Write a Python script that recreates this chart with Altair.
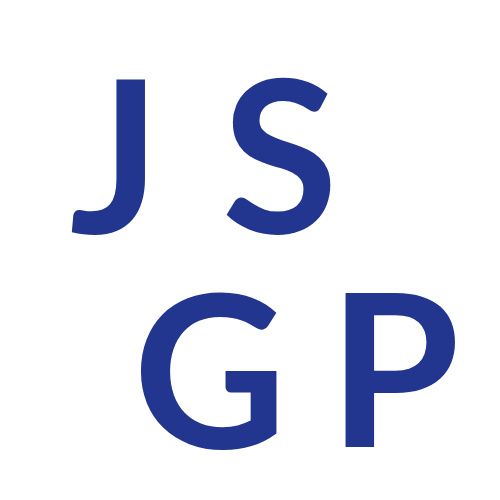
import altair as alt
import pandas as pd

# letters of the logo and where each one sits (page pixels, baseline centre)
letters = ["J", "S", "G", "P"]
xpos = [115, 280, 210, 394]
ybase = [233, 233, 448, 447]

df = pd.DataFrame({"letter": letters, "x": [v - 8 for v in xpos], "y": [v - 8 for v in ybase]})

chart = alt.Chart(df).mark_text(
    font="Lato", fontWeight="bold", fontSize=212, color="#22358f",
    align="center", baseline="alphabetic"
).encode(
    x=alt.X("x:Q", scale=alt.Scale(domain=[0, 484]), axis=None),
    y=alt.Y("y:Q", scale=alt.Scale(domain=[0, 484], reverse=True), axis=None),
    text="letter:N",
).properties(
    width=484, height=484, padding=0, autosize="none"
).configure_view(stroke=None)

chart.save("out.html", embed_options={"renderer": "svg", "actions": False})
